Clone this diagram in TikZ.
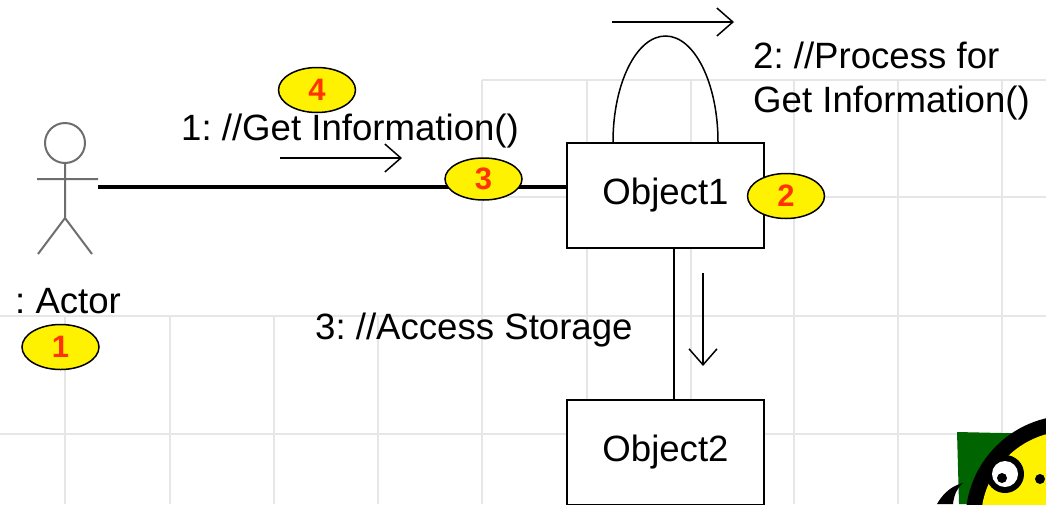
\documentclass[tikz,border=0pt]{standalone}
\usepackage{fontspec}
\setmainfont{Liberation Sans}
\usetikzlibrary{arrows.meta,shapes.geometric}
\definecolor{gridc}{RGB}{230,230,230}
\definecolor{actorc}{RGB}{110,110,110}
\definecolor{numc}{RGB}{255,51,0}
\definecolor{leafc}{RGB}{0,100,0}
\frenchspacing

\begin{document}
\begin{tikzpicture}[x=1pt,y=-1pt,
  gridline/.style={draw=gridc,line width=1.8pt},
  objbox/.style={draw,line width=2pt,fill=white,minimum width=197pt,minimum height=105pt,
    inner sep=0pt,font=\fontsize{36.6}{43}\selectfont},
  msgtext/.style={anchor=base west,inner sep=0pt,font=\fontsize{36.6}{43}\selectfont},
  marker/.style={ellipse,draw,line width=1.5pt,fill=yellow,minimum width=77pt,
    minimum height=45pt,inner sep=0pt,text=numc,font=\fontsize{31}{36}\selectfont\bfseries},
  msg/.style={line width=1.5pt,-{Straight Barb[length=16pt,width=28pt,line width=1.5pt]}},
  stick/.style={draw=actorc,line width=2pt}]

\useasboundingbox (0,0) rectangle (1046,504);
\fill[white] (0,0) rectangle (1046,504);
\clip (0,0) rectangle (1046,504);

% background grid
\foreach \x in {65,170,274,378} \draw[gridline] (\x,316) -- (\x,504);
\foreach \x in {482,587,691,794,898,1002} \draw[gridline] (\x,80) -- (\x,504);
\draw[gridline] (482,80) -- (1046,80);
\draw[gridline] (482,197) -- (1046,197);
\draw[gridline] (0,316) -- (1046,316);
\draw[gridline] (0,434) -- (1046,434);

% stick-figure actor
\draw[stick] (65,143) circle[radius=20pt];
\draw[stick] (65,163) -- (65,218) (37,179) -- (98,179) (38,254) -- (65,218) -- (92,254);
\coordinate (hand) at (98,187);

% objects
\node[objbox] (obj1) at (665.5,195.5) {Object1};
\node[objbox] (obj2) at (665.5,452.5) {Object2};

% links
\draw[line width=3.5pt] (hand) -- (hand -| obj1.west);
\draw[line width=1.5pt] ([xshift=-52.5pt]obj1.north)
  arc[start angle=180,end angle=0,x radius=52.5pt,y radius=106pt];
\draw[line width=2pt] ([xshift=8pt]obj1.south) -- ([xshift=8pt]obj2.north);

% message direction arrows
\coordinate (m1s) at (280,158);
\coordinate (m1e) at (402,158);
\coordinate (m2s) at (612,22);
\coordinate (m2e) at (734,22);
\coordinate (m3s) at (703,273);
\coordinate (m3e) at (703,366);
\draw[msg] (m1s) -- (m1e);
\draw[msg] (m2s) -- (m2e);
\draw[msg] (m3s) -- (m3e);

% numbered markers
\node[marker] (n1) at (60.5,347) {1};
\node[marker] (n2) at (786,196) {2};
\node[marker,minimum height=42pt] (n3) at (483.5,179) {3};
\node[marker] (n4) at (317,90) {4};

% message labels
\node[msgtext] (t1) at (181,140) {1: //Get Information()};
\node[msgtext] (t2a) at (753,68) {2: //Process for};
\node[msgtext] (t2b) at (753,112) {Get Information()};
\node[msgtext] (t3) at (315,339) {3: //Access Storage};
\node[msgtext] (actorname) at (15,313) {: Actor};

% mascot in the corner
\fill[leafc] (957,432) -- (1046,434) -- (1046,504) -- (959,504) -- cycle;
\fill[black] (1070,520) circle[radius=104.5pt];
\fill[yellow] (1070,520) circle[radius=89pt];
\fill[black] (1005,474) circle[radius=19pt];
\fill[white] (1005,474) circle[radius=13pt];
\fill[black] (1002,478) circle[radius=5pt];
\fill[black] (1040,479) circle[radius=5pt];
\fill[black] (937,504) .. controls (945,490) and (955,485) .. (963,483)
  .. controls (957,488) and (954,495) .. (953,504) -- cycle;
\end{tikzpicture}
\end{document}
